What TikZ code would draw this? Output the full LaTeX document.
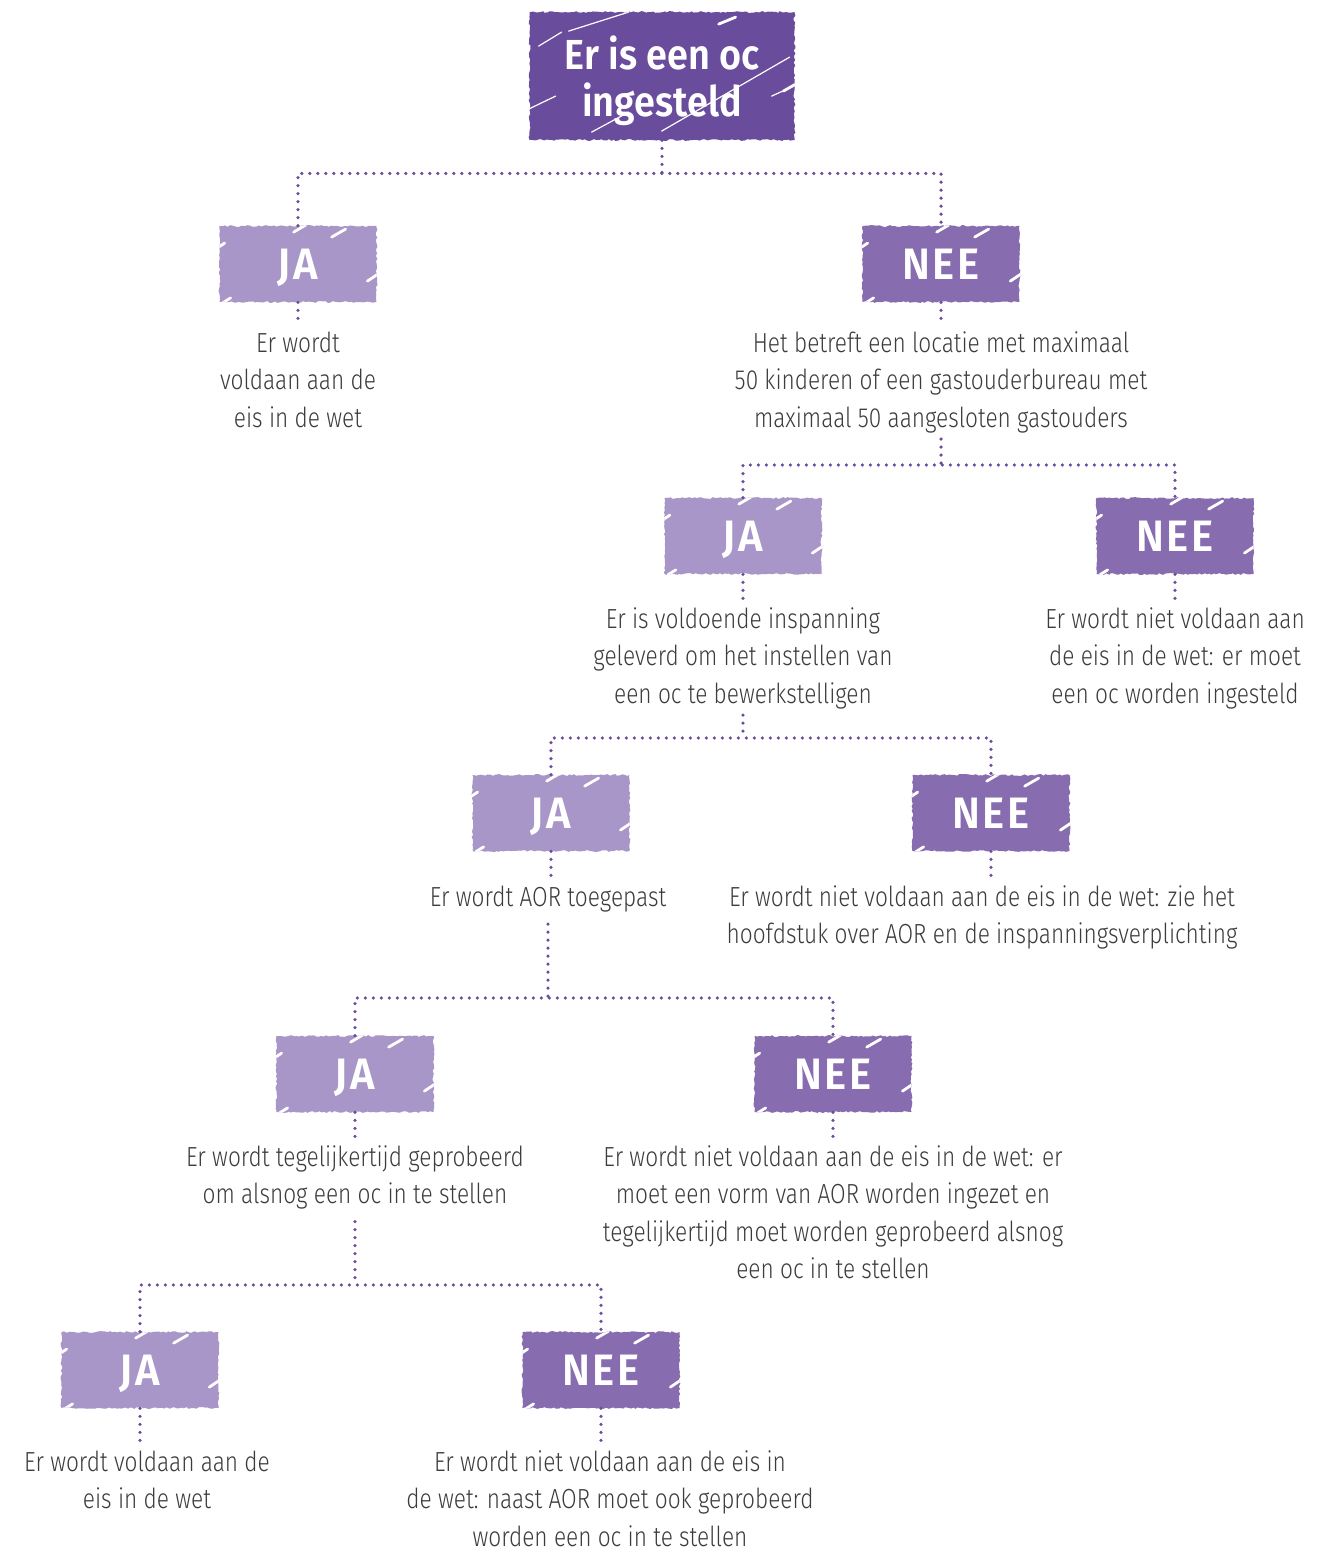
\documentclass[tikz,border=0pt]{standalone}
\usepackage{fontspec}
\setmainfont{Fira Sans Light}[FakeStretch=0.82]
\newfontfamily\kopfont{Fira Sans SemiBold}[FakeStretch=0.9]
\newfontfamily\vakfont{Fira Sans SemiBold}[FakeStretch=0.95,LetterSpace=6]
\usetikzlibrary{decorations.pathmorphing}

\definecolor{donker}{HTML}{6A4C9C}
\definecolor{neekleur}{HTML}{886CB0}
\definecolor{jakleur}{HTML}{A996C8}
\definecolor{tekst}{HTML}{3C3C3C}

\newcommand\krassen{%
	\draw[white,line width=1.4pt,line cap=round]
		([shift={(37.5pt,-3.5pt)}]path picture bounding box.north west) -- ++(6pt,3.5pt)
		([shift={(56.5pt,-6pt)}]path picture bounding box.north west) -- ++(7pt,4pt)
		([shift={(0pt,-11pt)}]path picture bounding box.north west) -- ++(3pt,2pt)
		([shift={(-5pt,-28pt)}]path picture bounding box.north east) -- ++(6pt,4pt)
		([shift={(2pt,0pt)}]path picture bounding box.south west) -- ++(4pt,2.5pt);}
\newcommand\strepen{%
	\draw[white,line width=0.6pt,line cap=round]
		([shift={(66.5pt,-60pt)}]path picture bounding box.north west) -- ++(64pt,37pt)
		([shift={(20pt,-10pt)}]path picture bounding box.north west) -- ++(30pt,9.5pt)
		([shift={(5pt,-17.5pt)}]path picture bounding box.north west) -- ++(11.5pt,7pt)
		([shift={(0pt,-49pt)}]path picture bounding box.north west) -- ++(13.5pt,6.5pt)
		([shift={(31.5pt,-60.5pt)}]path picture bounding box.north west) -- ++(18.5pt,10pt)
		([shift={(121.5pt,-42.5pt)}]path picture bounding box.north west) -- ++(11pt,5pt);
	\draw[white,line width=1.4pt,line cap=round]
		([shift={(95pt,-6.5pt)}]path picture bounding box.north west) -- ++(8.5pt,3.5pt)
		([shift={(-6pt,-40pt)}]path picture bounding box.north east) -- ++(7pt,4pt);}

\tikzset{
	ruw/.style={decorate,decoration={random steps,segment length=1.2pt,amplitude=0.45pt}},
	vak/.style={ruw,minimum width=78.5pt,minimum height=38pt,inner sep=0pt,text=white,
		text height=15.2pt,text depth=0pt,
		font=\vakfont\fontsize{22}{24}\selectfont,path picture={\krassen}},
	javak/.style={vak,fill=jakleur},
	neevak/.style={vak,fill=neekleur},
	wortel/.style={ruw,fill=donker,minimum width=132.5pt,minimum height=64pt,inner sep=0pt,
		text=white,align=center,font=\kopfont\fontsize{21}{23.5}\selectfont,path picture={\strepen}},
	uitleg/.style={align=center,text=tekst,anchor=base,inner sep=0pt,
		font=\fontsize{13.8}{18.75}\selectfont},
	lijn/.style={donker,line width=1.8pt,line cap=round,dash pattern=on 0pt off 4pt}
}

\begin{document}
\begin{tikzpicture}[x=0.5pt,y=-0.5pt]
	\pgfmathsetseed{7}
	\useasboundingbox (0,0) rectangle (1339,1551);

	\node[wortel] (top) at (662,76) {\rule{0pt}{22pt}Er is een oc\\ingesteld};

	\node[javak] (ja1) at (298,264) {JA};
	\node[neevak] (nee1) at (941,264) {NEE};
	\node[uitleg] (t1a) at (298,427) {Er wordt\\voldaan aan de\\eis in de wet};
	\node[uitleg] (t1b) at (941,427) {Het betreft een locatie met maximaal\\50 kinderen of een gastouderbureau met\\maximaal 50 aangesloten gastouders};

	\node[javak] (ja2) at (743,536) {JA};
	\node[neevak] (nee2) at (1175,536) {NEE};
	\node[uitleg] (t2a) at (743,703) {Er is voldoende inspanning\\geleverd om het instellen van\\een oc te bewerkstelligen};
	\node[uitleg] (t2b) at (1175,703) {Er wordt niet voldaan aan\\de eis in de wet: er moet\\een oc worden ingesteld};

	\node[javak] (ja3) at (551,813) {JA};
	\node[neevak] (nee3) at (991,813) {NEE};
	\node[uitleg] (t3a) at (548,906) {Er wordt AOR toegepast};
	\node[uitleg] (t3b) at (982,943.5) {Er wordt niet voldaan aan de eis in de wet: zie het\\hoofdstuk over AOR en de inspanningsverplichting};

	\node[javak] (ja4) at (355,1074) {JA};
	\node[neevak] (nee4) at (833,1074) {NEE};
	\node[uitleg] (t4a) at (355,1203.5) {Er wordt tegelijkertijd geprobeerd\\om alsnog een oc in te stellen};
	\node[uitleg] (t4b) at (833,1278.5) {Er wordt niet voldaan aan de eis in de wet: er\\moet een vorm van AOR worden ingezet en\\tegelijkertijd moet worden geprobeerd alsnog\\een oc in te stellen};

	\node[javak] (ja5) at (140,1370) {JA};
	\node[neevak] (nee5) at (601,1370) {NEE};
	\node[uitleg] (t5a) at (147,1508.5) {Er wordt voldaan aan de\\eis in de wet};
	\node[uitleg] (t5b) at (610,1546) {Er wordt niet voldaan aan de eis in\\de wet: naast AOR moet ook geprobeerd\\worden een oc in te stellen};

	\draw[lijn] (top.south) -- ++(0,33) coordinate (s0);
	\draw[lijn] (ja1.north) |- (s0) -| (nee1.north);
	\draw[lijn] (t1b.south) ++(0,6) -- (941,465) coordinate (s1);
	\draw[lijn] (ja2.north) |- (s1) -| (nee2.north);
	\draw[lijn] (t2a.south) ++(0,6) -- (743,738) coordinate (s2);
	\draw[lijn] (ja3.north) |- (s2) -| (nee3.north);
	\draw[lijn] (t3a.south) ++(0,12) -- (548,998) coordinate (s3);
	\draw[lijn] (ja4.north) |- (s3) -| (nee4.north);
	\draw[lijn] (t4a.south) ++(0,12) -- (355,1285) coordinate (s4);
	\draw[lijn] (ja5.north) |- (s4) -| (nee5.north);

	\foreach \b/\t in {ja1/t1a,nee1/t1b,ja2/t2a,nee2/t2b,ja3/t3a,nee3/t3b,ja4/t4a,nee4/t4b,ja5/t5a,nee5/t5b}
		\draw[lijn,shorten >=4pt] (\b.south) -- (\b.south |- \t.north);
\end{tikzpicture}
\end{document}
